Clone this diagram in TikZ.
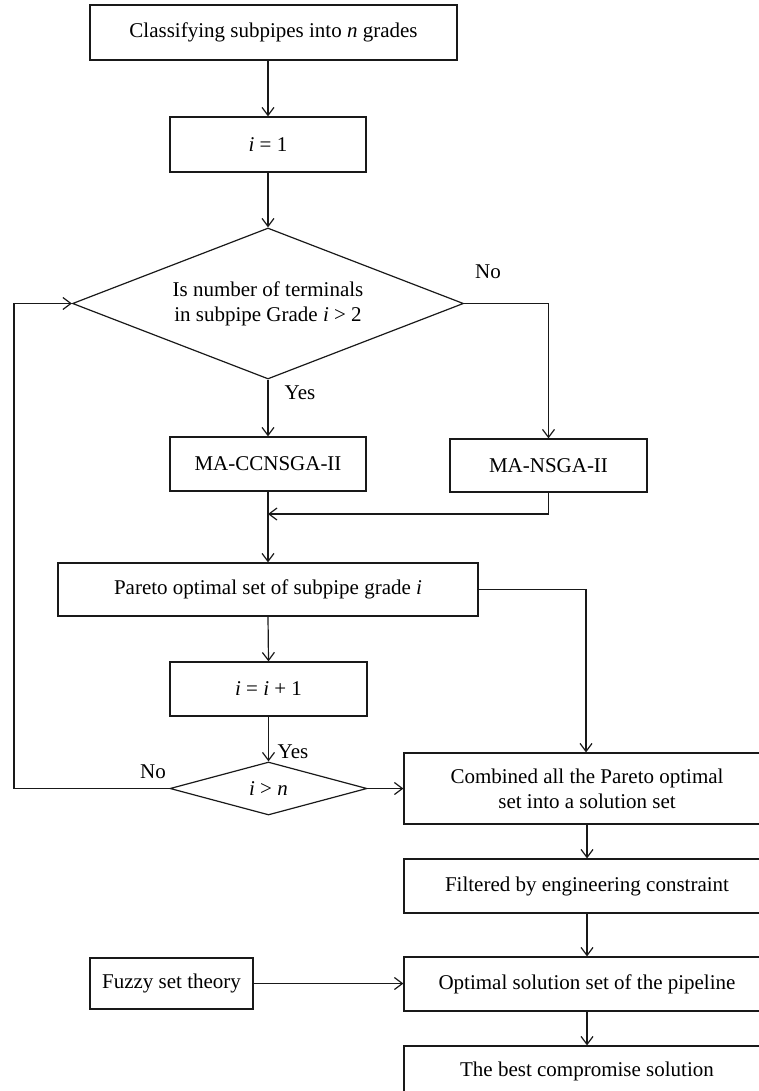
\documentclass[tikz,border=0pt]{standalone}
\usepackage{fontspec}
\setmainfont{Liberation Serif}
\usetikzlibrary{arrows.meta,shapes.geometric}
\begin{document}
\begin{tikzpicture}[x=1pt,y=-1pt,
  font=\fontsize{21}{25}\selectfont,
  line width=1.2pt, draw=black!90,
  stepbox/.style={draw, rectangle, inner sep=0pt, align=center},
  decide/.style={draw, diamond, inner sep=0pt, align=center},
  flow/.style={draw, -{Straight Barb[length=8pt,width=12pt]}},
  lbl/.style={inner sep=0pt}]
\useasboundingbox (0,0) rectangle (759,1091);
\clip (0,0) rectangle (759,1091);

% main loop column
\node[stepbox, minimum width=367pt, minimum height=55pt] (cls) at (273.5,32.5) {Classifying subpipes into \textit{n} grades};
\node[stepbox, minimum width=196pt, minimum height=55pt] (init) at (268,144.5) {\textit{i} = 1};
\node[decide, minimum width=391pt, minimum height=151pt, aspect=2.6] (test) at (268,303.5) {Is number of terminals\\in subpipe Grade \textit{i} {>} 2};
\node[stepbox, minimum width=196pt, minimum height=54pt] (cc) at (268,464) {MA-CCNSGA-II};
\node[stepbox, minimum width=197pt, minimum height=53pt] (ns) at (548.5,465.5) {MA-NSGA-II};
\node[stepbox, minimum width=420pt, minimum height=53pt] (par) at (268,589.5) {Pareto optimal set of subpipe grade \textit{i}};
\node[stepbox, minimum width=197pt, minimum height=54pt] (inc) at (268.5,689) {\textit{i} = \textit{i} + 1};
\node[decide, minimum width=197pt, minimum height=53pt, aspect=3.7] (stop) at (268.5,788.5) {\textit{i} {>} \textit{n}};

% result column
\node[stepbox, minimum width=366pt, minimum height=71pt] (comb) at (587,788.5) {Combined all the Pareto optimal\\set into a solution set};
\node[stepbox, minimum width=366pt, minimum height=54pt] (filt) at (587,886) {Filtered by engineering constraint};
\node[stepbox, minimum width=163pt, minimum height=51pt] (fuzzy) at (171.5,983.5) {Fuzzy set theory};
\node[stepbox, minimum width=366pt, minimum height=54pt] (opt) at (587,984) {Optimal solution set of the pipeline};
\node[stepbox, minimum width=366pt, minimum height=50pt] (best) at (587,1071) {The best compromise solution};

% branch labels
\node[lbl] (no1) at (488,272) {No};
\node[lbl] (yes1) at (300,393) {Yes};
\node[lbl] (yes2) at (293,752) {Yes};
\node[lbl] (no2) at (153,772) {No};

% helper points
\coordinate (merge) at (268,514);
\coordinate (back) at (14,788.5);

% connectors
\draw[flow] (cls.south -| init.north) -- (init.north);
\draw[flow] (init.south) -- (test.north);
\draw[flow] (test.south) -- (cc.north);
\draw[flow] (test.east) -| (ns.north);
\draw[flow] (ns.south) |- (merge);
\draw[flow] (cc.south) -- (par.north);
\draw[flow] (par.south) -- (inc.north);
\draw[flow] (inc.south) -- (stop.north);
\draw[flow] (stop.east) -- (comb.west |- stop.east);
\draw[flow] (stop.west) -- (back) |- (test.west);
\draw[flow] (par.east) -| ([xshift=-1pt]comb.north);
\draw[flow] (comb.south) -- (filt.north);
\draw[flow] (filt.south) -- (opt.north);
\draw[flow] (fuzzy.east) -- (opt.west |- fuzzy.east);
\draw[flow] (opt.south) -- (best.north);
\end{tikzpicture}
\end{document}
